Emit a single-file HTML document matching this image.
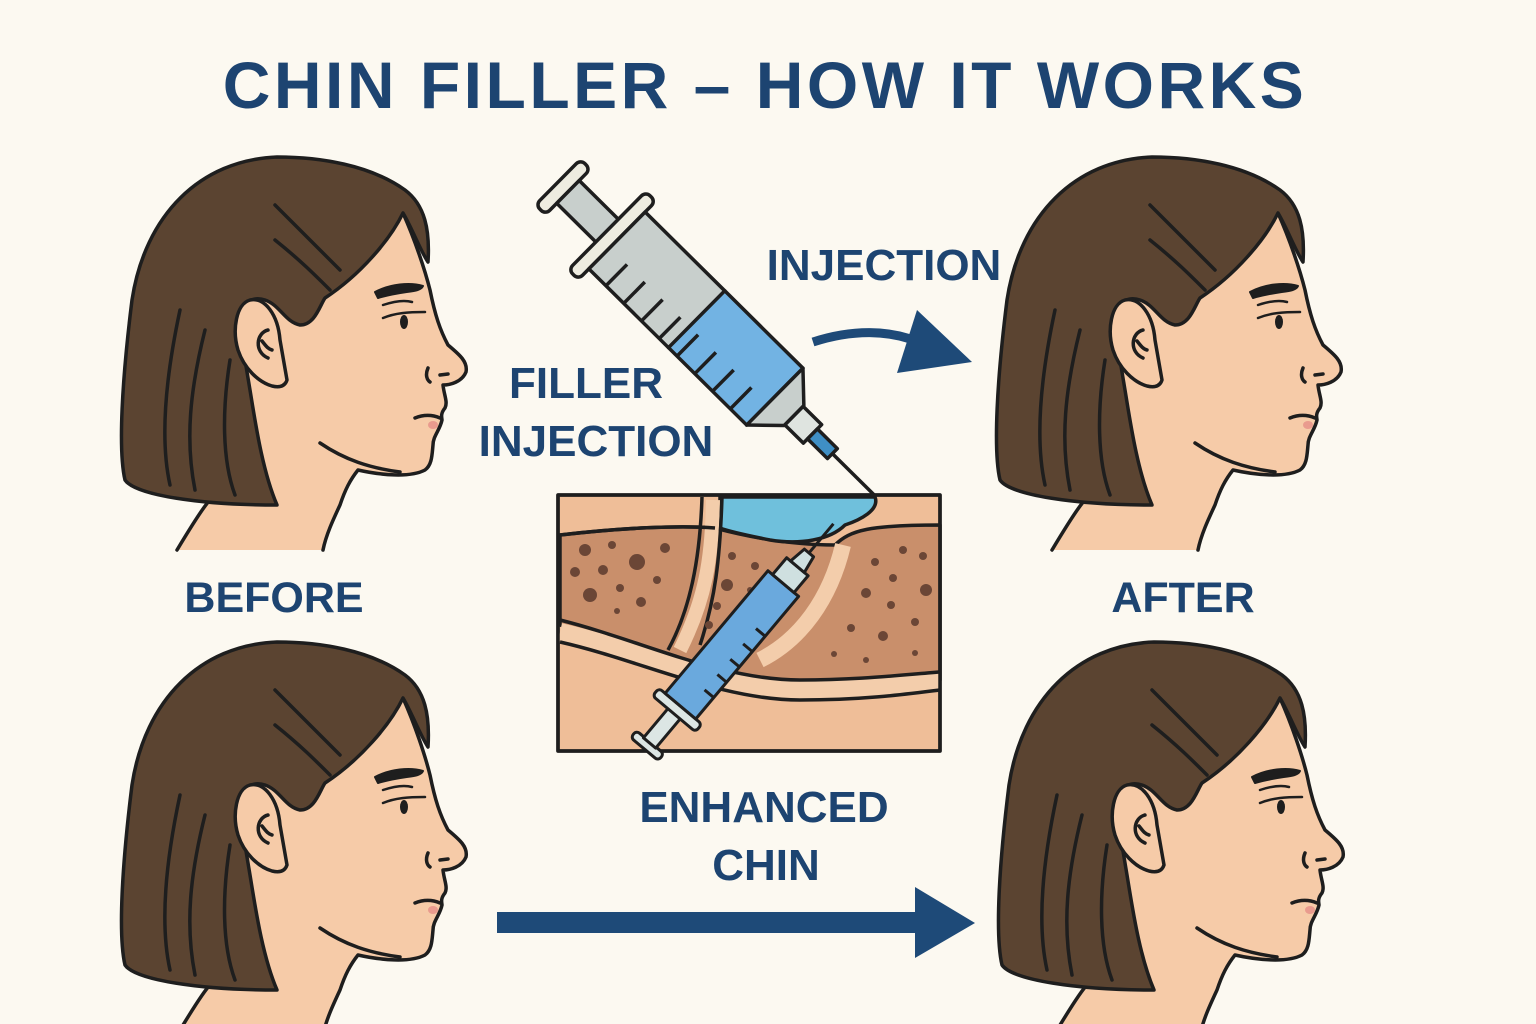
<!DOCTYPE html>
<html><head><meta charset="utf-8"><style>
html,body{margin:0;padding:0;background:#fcf9f1;}
svg{display:block}
text{font-family:"Liberation Sans",sans-serif;font-weight:bold;fill:#1d4471;}
</style></head><body>
<svg width="1536" height="1024" viewBox="0 0 1536 1024" xmlns="http://www.w3.org/2000/svg">
<rect width="1536" height="1024" fill="#fcf9f1"/>
<defs>
<g id="head" stroke="#1e1e1e" stroke-width="3.5" stroke-linecap="round" stroke-linejoin="round">
  <path fill="#f6cba8" d="M177 550 C195 520 205 505 210 500 L245 500 L232 320 L260 240 L300 222 L403 213 C415 240 425 270 430 290 C435 315 440 330 448 345 C460 355 468 362 466 372 C462 382 450 385 443 385 C444 395 448 402 445 408 C440 414 442 418 442 420 C440 430 433 436 433 445 C432 455 432 465 425 470 C410 478 380 475 358 470 C350 480 345 490 340 505 C333 520 326 535 323 550"/>
  <path fill="#5b4431" d="M277 157 C200 160 145 215 132 300 C122 380 118 450 125 480 C135 495 200 505 277 505 C262 470 255 420 250 390 L240 330 C238 305 250 295 265 300 C280 305 285 322 300 325 C315 325 320 305 325 298 C360 275 390 240 403 213 C412 228 420 250 428 262 C430 230 425 205 405 190 C370 165 320 157 277 157 Z"/>
  <path fill="none" d="M180 310 C165 380 160 440 170 485 M205 330 C190 390 185 440 195 490 M230 360 C222 410 222 460 235 495 M275 205 C300 230 320 250 340 270 M275 240 C300 260 315 275 330 290"/>
  <path fill="#f6cba8" d="M250 300 C236 304 232 330 238 350 C244 368 258 382 272 386 C280 388 285 386 287 380 L280 340 C278 315 265 297 250 300 Z"/>
  <path fill="none" d="M268 330 C256 333 254 352 268 358 M262 341 C266 346 268 349 272 350"/>
  <path fill="#1e1e1e" stroke-width="2" d="M375 292 C390 284 410 282 423 286 C420 293 405 290 378 298 Z"/>
  <path fill="none" stroke-width="2.5" d="M383 305 C395 301 405 300 412 302 M383 318 C395 313 408 312 425 312"/>
  <ellipse cx="404" cy="322" rx="4" ry="7" fill="#1e1e1e" stroke="none"/>
  <path fill="none" d="M428 368 C425 375 427 380 430 382 M440 375 L448 374"/>
  <path fill="none" d="M415 418 C425 414 433 415 440 418"/>
  <ellipse cx="433" cy="425" rx="5" ry="4" fill="#e99b8e" stroke="none"/>
  <path fill="none" d="M320 443 C345 460 370 468 400 472"/>
</g>
</defs>

<text x="765" y="108" font-size="66" text-anchor="middle" letter-spacing="3.5">CHIN FILLER – HOW IT WORKS</text>

<use href="#head"/>
<use href="#head" transform="translate(875,0)"/>
<use href="#head" transform="translate(0,485)"/>
<use href="#head" transform="translate(877,485)"/>

<text x="274" y="612" font-size="43" text-anchor="middle">BEFORE</text>
<text x="1183" y="612" font-size="43" text-anchor="middle">AFTER</text>
<text x="884" y="280" font-size="44" text-anchor="middle">INJECTION</text>
<text x="586" y="398" font-size="44" text-anchor="middle">FILLER</text>
<text x="596" y="456" font-size="44" text-anchor="middle">INJECTION</text>
<text x="764" y="822" font-size="44" text-anchor="middle">ENHANCED</text>
<text x="766" y="880" font-size="44" text-anchor="middle">CHIN</text>

<path d="M813 342 C850 330 890 328 925 345" fill="none" stroke="#1e4a78" stroke-width="9"/>
<polygon points="917,310 972,362 897,373" fill="#1e4a78"/>
<rect x="497" y="912" width="425" height="21" fill="#1e4a78"/>
<polygon points="915,887 975,923 915,958" fill="#1e4a78"/>

<g stroke="#1e1e1e" stroke-width="3.5" stroke-linejoin="round">
  <rect x="558" y="495" width="382" height="256" fill="#efbe98"/>
  <path fill="#c98f6b" d="M560 535 C620 528 680 525 715 528 C760 540 800 545 835 545 C850 530 870 525 940 525 L940 680 C880 690 820 690 760 680 C700 670 640 650 560 625 Z"/>
  <path fill="#6fc0dc" d="M720 497 L875 497 C880 510 860 520 845 525 C830 540 800 545 770 540 C745 535 725 530 720 528 Z"/>
  <path fill="none" stroke="#f3cdab" stroke-width="14" d="M713 500 C712 560 705 600 680 650"/>
  <path fill="none" stroke="#f3cdab" stroke-width="18" d="M560 632 C640 650 720 690 800 690 C860 690 900 685 940 680"/>
  <path fill="none" stroke="#f3cdab" stroke-width="16" d="M843 545 C830 600 800 640 760 660"/>
  <path fill="none" d="M560 535 C620 528 680 525 715 528 M560 620 C640 640 720 680 800 680 C860 680 900 675 940 672 M560 642 C640 660 720 700 800 700 C860 700 900 695 940 690 M702 497 C700 560 690 610 668 650 M722 497 C720 560 715 600 700 645"/>
  <rect x="558" y="495" width="382" height="256" fill="none"/>
  <g fill="#6b4636" stroke="none">
    <circle cx="585" cy="550" r="6"/><circle cx="612" cy="545" r="4"/><circle cx="637" cy="562" r="8"/><circle cx="665" cy="548" r="5"/>
    <circle cx="575" cy="572" r="5"/><circle cx="603" cy="570" r="5"/><circle cx="620" cy="588" r="4"/><circle cx="590" cy="595" r="7"/>
    <circle cx="657" cy="580" r="4"/><circle cx="641" cy="602" r="5"/><circle cx="617" cy="611" r="3"/>
    <circle cx="732" cy="556" r="4"/><circle cx="755" cy="566" r="4"/><circle cx="727" cy="585" r="6"/><circle cx="750" cy="590" r="3"/><circle cx="717" cy="606" r="4"/><circle cx="709" cy="625" r="4"/>
    <circle cx="903" cy="550" r="4"/><circle cx="923" cy="556" r="4"/><circle cx="875" cy="562" r="4"/><circle cx="893" cy="578" r="4"/><circle cx="866" cy="593" r="5"/><circle cx="926" cy="590" r="6"/>
    <circle cx="891" cy="605" r="4"/><circle cx="851" cy="628" r="4"/><circle cx="883" cy="636" r="5"/><circle cx="915" cy="622" r="4"/><circle cx="834" cy="654" r="3"/><circle cx="866" cy="660" r="3"/><circle cx="915" cy="653" r="3"/>
  </g>
</g>

<g transform="translate(647,746) rotate(-50)" stroke="#1e1e1e" stroke-width="3" stroke-linejoin="round">
  <rect x="-4" y="-18" width="9" height="36" rx="4" fill="#dce6e4"/>
  <rect x="4" y="-8" width="40" height="16" fill="#dce6e4"/>
  <rect x="42" y="-28" width="10" height="56" rx="4" fill="#dce6e4"/>
  <rect x="52" y="-20" width="160" height="40" fill="#6aa9dd"/>
  <path d="M80 20 L80 8 M100 20 L100 8 M120 20 L120 8 M140 20 L140 8 M160 20 L160 8" fill="none"/>
  <rect x="212" y="-14" width="22" height="28" fill="#cfe0e0"/>
  <path d="M234 -9 L252 -6 L252 6 L234 9 Z" fill="#cfe0e0"/>
  <line x1="252" y1="0" x2="290" y2="0"/>
</g>

<g transform="translate(563,187) rotate(44.7)" stroke="#1e1e1e" stroke-width="3.5" stroke-linejoin="round">
  <rect x="-7" y="-32" width="14" height="64" rx="6" fill="#eeece0"/>
  <rect x="7" y="-16" width="60" height="32" fill="#c8cfcc"/>
  <rect x="62" y="-55" width="14" height="110" rx="6" fill="#eeece0"/>
  <rect x="76" y="-40" width="112" height="80" fill="#c8cfcc"/>
  <rect x="188" y="-40" width="110" height="80" fill="#72b3e3"/>
  <path d="M100 40 L100 10 M125 40 L125 10 M150 40 L150 10 M175 40 L175 10 M200 40 L200 10 M225 40 L225 10 M250 40 L250 10 M275 40 L275 10" fill="none"/>
  <path d="M298 -40 L325 -14 L325 14 L298 40 Z" fill="#c8cfcc"/>
  <rect x="325" y="-13" width="26" height="26" fill="#dfe4e0"/>
  <rect x="351" y="-7" width="28" height="14" fill="#3f8fc5"/>
  <line x1="379" y1="0" x2="440" y2="0"/>
</g>
</svg>
</body></html>
